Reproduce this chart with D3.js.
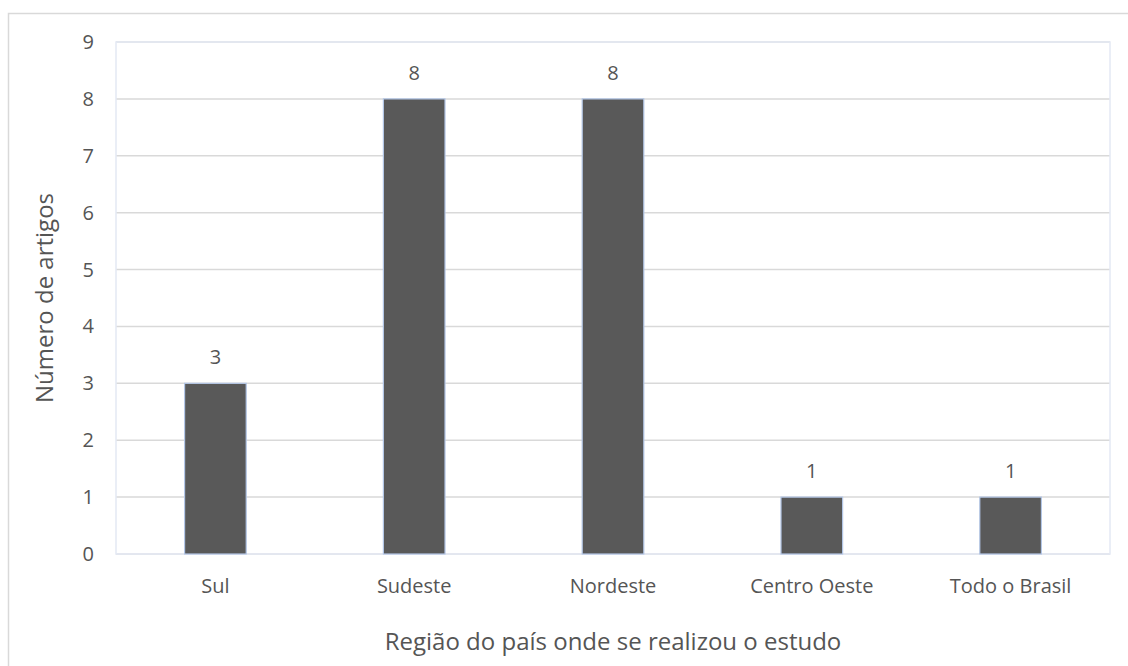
<!DOCTYPE html>
<html>
<head>
<meta charset="utf-8">
<script src="https://cdn.jsdelivr.net/npm/d3@7"></script>
<style>
  body { margin: 0; background: #fff; }
  svg text { font-family: "Open Sans", "Noto Sans", sans-serif; fill: #555555; }
</style>
</head>
<body>
<svg width="1128" height="666"></svg>
<script>
var regions = ['Sul', 'Sudeste', 'Nordeste', 'Centro Oeste', 'Todo o Brasil'];
var articles = [3, 8, 8, 1, 1];
var yTicks = [0, 1, 2, 3, 4, 5, 6, 7, 8, 9];

var svg = d3.select('svg');
var plotLeft = 116, plotRight = 1110, plotTop = 42, plotBottom = 554;

// outer frame (cut off at right and bottom like the picture)
svg.append('rect')
    .attr('x', 8.5).attr('y', 13.5)
    .attr('width', 1200).attr('height', 700)
    .attr('fill', 'none')
    .attr('stroke', '#d9d9d9')
    .attr('stroke-width', 1.5);

var x = d3.scaleBand()
          .domain(regions)
          .range([plotLeft, plotRight])
          .paddingInner(0.69)
          .paddingOuter(0.345);

var y = d3.scaleLinear()
          .domain([0, 9])
          .range([plotBottom, plotTop]);

// gridlines
svg.append('g')
  .selectAll('line')
  .data(yTicks)
  .enter()
  .append('line')
    .attr('x1', plotLeft).attr('x2', plotRight)
    .attr('y1', d => y(d)).attr('y2', d => y(d))
    .attr('stroke', '#d9d9d9')
    .attr('stroke-width', 1.5);

// plot area border
svg.append('rect')
    .attr('x', plotLeft).attr('y', plotTop)
    .attr('width', plotRight - plotLeft).attr('height', plotBottom - plotTop)
    .attr('fill', 'none')
    .attr('stroke', '#e4e9f4')
    .attr('stroke-width', 1.5);

// y tick labels
svg.append('g')
  .selectAll('text')
  .data(yTicks)
  .enter()
  .append('text')
    .attr('x', 94)
    .attr('y', d => y(d))
    .attr('dy', '0.35em')
    .attr('text-anchor', 'end')
    .style('font-size', '20px')
    .text(d => d);

// bars
svg.append('g')
  .selectAll('rect')
  .data(articles)
  .enter()
  .append('rect')
    .attr('x', (d, i) => x(regions[i]))
    .attr('y', d => y(d))
    .attr('width', x.bandwidth())
    .attr('height', d => y(0) - y(d))
    .attr('fill', '#595959')
    .attr('stroke', '#b4c7e7')
    .attr('stroke-width', 1.2);

// value labels
svg.append('g')
  .selectAll('text')
  .data(articles)
  .enter()
  .append('text')
    .attr('x', (d, i) => x(regions[i]) + x.bandwidth() / 2)
    .attr('y', d => y(d) - 19)
    .attr('text-anchor', 'middle')
    .style('font-size', '20px')
    .text(d => d);

// x category labels
svg.append('g')
  .selectAll('text')
  .data(regions)
  .enter()
  .append('text')
    .attr('x', d => x(d) + x.bandwidth() / 2)
    .attr('y', 593)
    .attr('text-anchor', 'middle')
    .style('font-size', '20px')
    .text(d => d);

// axis titles
svg.append('text')
    .attr('x', (plotLeft + plotRight) / 2)
    .attr('y', 650)
    .attr('text-anchor', 'middle')
    .style('font-size', '24px')
    .text('Região do país onde se realizou o estudo');

svg.append('text')
    .attr('transform', 'translate(53, ' + (plotTop + plotBottom) / 2 + ') rotate(-90)')
    .attr('text-anchor', 'middle')
    .style('font-size', '24px')
    .text('Número de artigos');
</script>
</body>
</html>
